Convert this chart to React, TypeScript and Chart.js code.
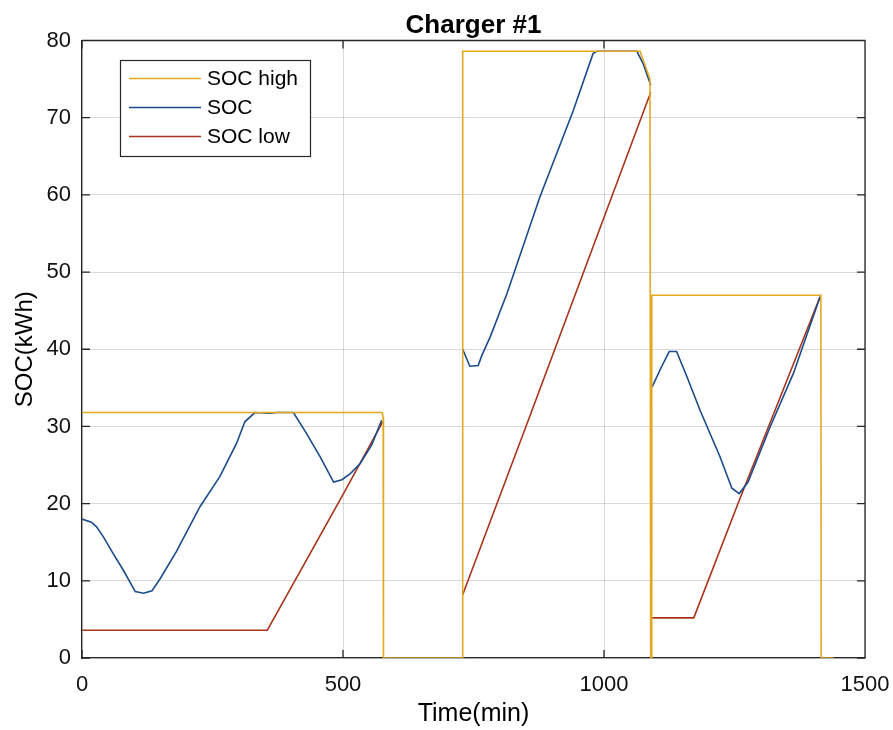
import { useEffect, useRef } from "react";
import { Chart, registerables } from "chart.js";

Chart.register(...registerables);

// Axis ticks
const timeTicks = [0, 500, 1000, 1500];
const socTicks = [0, 10, 20, 30, 40, 50, 60, 70, 80];

// Upper SOC bound while the charger is occupied (kWh)
const socHighTime = [0, 575, 577, 577.5, 729, 729.3, 1069, 1088, 1089.5, 1091, 1091.5, 1415.5, 1416, 1439.5];
const socHighKwh = [31.8, 31.8, 31.2, 0, 0, 78.6, 78.6, 75.0, 0, 0, 47.0, 47.0, 0, 0];

// Actual state of charge; null separates the three charging sessions
const socTime = [
  0, 18, 28, 41, 60, 79, 102, 118, 134, 150, 181, 226, 264, 296, 312, 331, 360, 373, 405, 430, 456, 482, 498, 514, 533, 555, 574,
  650,
  729.3, 743, 759, 766, 782, 814, 877, 941, 979, 986, 1063, 1075, 1089.5,
  1091,
  1092, 1110, 1125, 1139, 1158, 1184, 1222, 1245, 1259, 1276, 1318, 1363, 1414,
];
const socKwh = [
  18.0, 17.6, 17.0, 15.7, 13.5, 11.4, 8.6, 8.4, 8.7, 10.3, 13.8, 19.6, 23.5, 27.8, 30.6, 31.8, 31.7, 31.8, 31.8, 29.1, 26.1, 22.8, 23.1, 23.9, 25.2, 27.6, 30.8,
  null,
  40.0, 37.8, 37.9, 39.2, 41.6, 47.2, 59.7, 70.9, 78.3, 78.6, 78.6, 77.0, 74.2,
  null,
  35.1, 37.7, 39.7, 39.7, 36.6, 32.1, 26.1, 22.0, 21.3, 22.8, 29.9, 36.9, 46.8,
];

// Lower SOC bound
const socLowTime = [0, 355, 501, 576, 650, 729.3, 855, 1089.5, 1091, 1092, 1172, 1259, 1414];
const socLowKwh = [3.6, 3.6, 21.3, 30.6, null, 8.2, 30.8, 73.3, null, 5.2, 5.2, 20.4, 46.8];

const FONT = "'Liberation Sans', Arial, Helvetica, sans-serif";
const AXIS_COLOR = "#262626";

const toPoints = (xs: number[], ys: (number | null)[]) => xs.map((x, i) => ({ x, y: ys[i] }));

// Box on top/right plus inward tick marks on all four sides
const framePlugin = {
  id: "frame",
  beforeDatasetsDraw(chart: any) {
    const { ctx, chartArea: a, scales } = chart;
    const len = 8;
    ctx.save();
    ctx.strokeStyle = AXIS_COLOR;
    ctx.lineWidth = 1.3;
    ctx.beginPath();
    ctx.moveTo(a.left, a.top);
    ctx.lineTo(a.right, a.top);
    ctx.lineTo(a.right, a.bottom);
    for (const t of timeTicks) {
      const px = scales.x.getPixelForValue(t);
      ctx.moveTo(px, a.bottom);
      ctx.lineTo(px, a.bottom - len);
      ctx.moveTo(px, a.top);
      ctx.lineTo(px, a.top + len);
    }
    for (const t of socTicks) {
      const py = scales.y.getPixelForValue(t);
      ctx.moveTo(a.left, py);
      ctx.lineTo(a.left + len, py);
      ctx.moveTo(a.right, py);
      ctx.lineTo(a.right - len, py);
    }
    ctx.stroke();
    ctx.restore();
  },
};

// Title and boxed legend drawn over the plot
const overlayPlugin = {
  id: "overlay",
  afterDraw(chart: any) {
    const { ctx, chartArea: a } = chart;
    ctx.save();
    ctx.fillStyle = "#000";
    ctx.font = `bold 26px ${FONT}`;
    ctx.textAlign = "center";
    ctx.textBaseline = "alphabetic";
    ctx.fillText("Charger #1", (a.left + a.right) / 2, 33);

    const bx = 120.5, by = 60.5, bw = 190, bh = 96;
    ctx.fillStyle = "#fff";
    ctx.fillRect(bx, by, bw, bh);
    ctx.strokeStyle = AXIS_COLOR;
    ctx.lineWidth = 1.2;
    ctx.strokeRect(bx, by, bw, bh);

    ctx.font = `21px ${FONT}`;
    ctx.textAlign = "left";
    ctx.textBaseline = "middle";
    chart.data.datasets.forEach((ds: any, i: number) => {
      const y = 78.5 + i * 29;
      ctx.strokeStyle = ds.borderColor;
      ctx.lineWidth = 1.6;
      ctx.beginPath();
      ctx.moveTo(129, y);
      ctx.lineTo(201, y);
      ctx.stroke();
      ctx.fillStyle = "#000";
      ctx.fillText(ds.label, 207, y + 1);
    });
    ctx.restore();
  },
};

export default function App() {
  const canvasRef = useRef<HTMLCanvasElement | null>(null);

  useEffect(() => {
    const canvas = canvasRef.current;
    if (!canvas) return;
    const line = { pointRadius: 0, borderWidth: 1.6, tension: 0, fill: false, spanGaps: false };
    const plain = (v: any) => String(v);
    const chart = new Chart(canvas, {
      type: "line",
      data: {
        datasets: [
          { label: "SOC high", data: toPoints(socHighTime, socHighKwh), borderColor: "#E3A81F", ...line },
          { label: "SOC", data: toPoints(socTime, socKwh), borderColor: "#1B4B8A", ...line },
          { label: "SOC low", data: toPoints(socLowTime, socLowKwh), borderColor: "#A8341C", ...line },
        ],
      },
      options: {
        animation: false,
        responsive: true,
        maintainAspectRatio: false,
        layout: { padding: { top: 40.5, right: 28, bottom: 0, left: 0 } },
        plugins: { legend: { display: false }, title: { display: false }, tooltip: { enabled: false } },
        scales: {
          x: {
            type: "linear",
            min: 0,
            max: 1500,
            afterBuildTicks: (s: any) => {
              s.ticks = timeTicks.map((v) => ({ value: v }));
            },
            afterFit: (s: any) => {
              s.height = 72;
              s.paddingLeft = 0;
              s.paddingRight = 0;
            },
            ticks: { padding: 14, color: "#111", font: { family: FONT, size: 22 }, callback: plain },
            grid: { color: "rgba(0,0,0,0.15)", drawTicks: false, lineWidth: 1 },
            border: { color: AXIS_COLOR, width: 1.3 },
            title: {
              display: true,
              text: "Time(min)",
              color: "#000",
              font: { family: FONT, size: 25 },
              padding: { top: 0, bottom: 0.7 },
            },
          },
          y: {
            type: "linear",
            min: 0,
            max: 80,
            afterBuildTicks: (s: any) => {
              s.ticks = socTicks.map((v) => ({ value: v }));
            },
            afterFit: (s: any) => {
              s.width = 82;
              s.paddingTop = 0;
              s.paddingBottom = 0;
            },
            ticks: { padding: 11, color: "#111", font: { family: FONT, size: 22 }, callback: plain },
            grid: { color: "rgba(0,0,0,0.15)", drawTicks: false, lineWidth: 1 },
            border: { color: AXIS_COLOR, width: 1.3 },
            title: {
              display: true,
              text: "SOC(kWh)",
              color: "#000",
              font: { family: FONT, size: 24 },
              padding: { top: 11, bottom: 0 },
            },
          },
        },
      },
      plugins: [framePlugin, overlayPlugin],
    } as any);
    return () => chart.destroy();
  }, []);

  return (
    <div style={{ position: "fixed", left: 0, top: 0, width: 893, height: 730, background: "#fff" }}>
      <canvas ref={canvasRef} />
    </div>
  );
}
